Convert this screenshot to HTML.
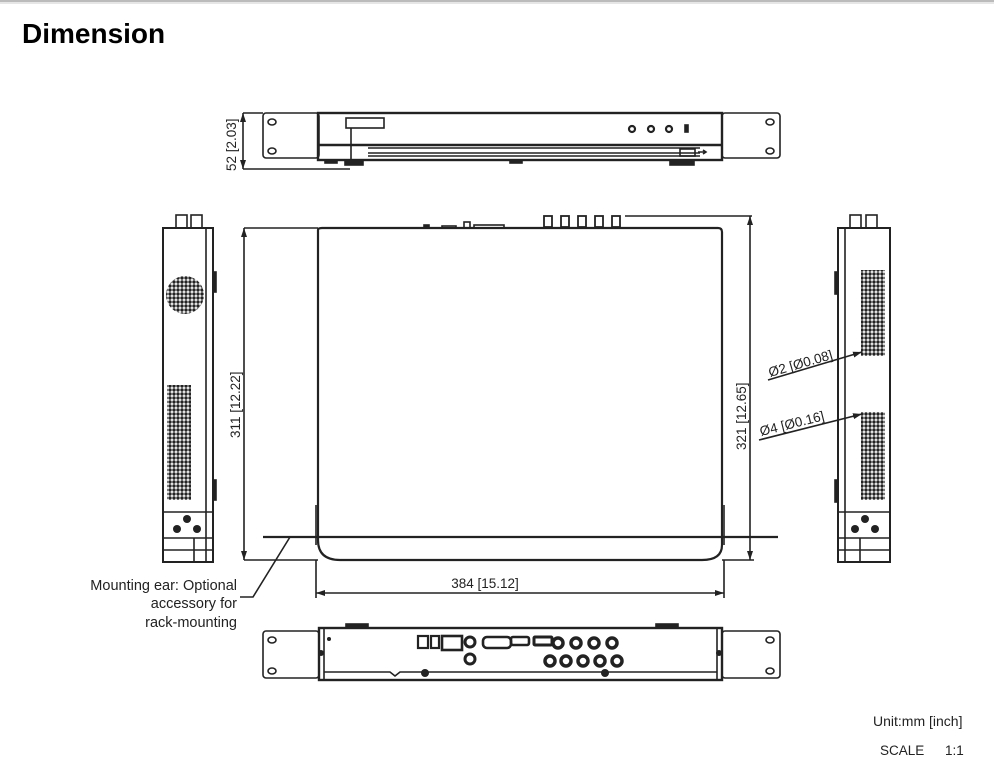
<!DOCTYPE html>
<html><head><meta charset="utf-8"><style>
html,body{margin:0;padding:0;background:#fff;}
svg{display:block;}
text{font-family:"Liberation Sans",sans-serif;fill:#222;}
</style></head><body>
<svg width="994" height="770" viewBox="0 0 994 770" xmlns="http://www.w3.org/2000/svg">
<defs>
<pattern id="dots" width="4" height="4" patternUnits="userSpaceOnUse"><circle cx="2" cy="2" r="1.7" fill="#222"/></pattern>
<marker id="ar" markerWidth="9" markerHeight="6" refX="9" refY="3" orient="auto-start-reverse" markerUnits="userSpaceOnUse"><path d="M0,0 L9,3 L0,6 z" fill="#222"/></marker>
</defs>
<rect x="0" y="0" width="994" height="2" fill="#bbb"/>
<rect x="0" y="2" width="994" height="2" fill="#e6e6e6"/>
<text x="22" y="43" font-size="28" font-weight="bold" style="fill:#000">Dimension</text>

<g fill="none" stroke="#222" stroke-width="1.6">
<!-- FRONT VIEW -->
<rect x="263" y="113" width="56" height="45" rx="3"/>
<rect x="722" y="113" width="58" height="45" rx="3"/>
<ellipse cx="272" cy="122" rx="4" ry="3"/><ellipse cx="272" cy="151" rx="4" ry="3"/>
<ellipse cx="770" cy="122" rx="4" ry="3"/><ellipse cx="770" cy="151" rx="4" ry="3"/>
<rect x="318" y="113" width="404" height="47" stroke-width="2.4"/>
<line x1="318" y1="145" x2="722" y2="145" stroke-width="2.4"/>
<rect x="346" y="118" width="38" height="10"/>
<line x1="351" y1="128" x2="351" y2="160"/>
<line x1="368" y1="148" x2="700" y2="148"/><line x1="368" y1="153" x2="700" y2="153"/>
<line x1="368" y1="156" x2="700" y2="156"/>
<circle cx="632" cy="129" r="3" stroke-width="2.2"/><circle cx="651" cy="129" r="3" stroke-width="2.2"/><circle cx="669" cy="129" r="3" stroke-width="2.2"/>
<rect x="685" y="125" width="3" height="7" fill="#222"/>
<rect x="680" y="149" width="15" height="7"/>
<path d="M698 152 h8 M703 150 l3 2 l-3 2"/>
<rect x="325" y="160" width="12" height="3" fill="#222"/><rect x="345" y="160" width="18" height="5" fill="#222"/>
<rect x="510" y="160" width="12" height="3" fill="#222"/><rect x="670" y="160" width="24" height="5" fill="#222"/>
<line x1="243" y1="113" x2="263" y2="113"/><line x1="243" y1="169" x2="350" y2="169"/>
<line x1="243" y1="113" x2="243" y2="169" marker-start="url(#ar)" marker-end="url(#ar)"/>

<!-- TOP VIEW -->
<path d="M318 230 Q318 228 322 228 L718 228 Q722 228 722 232 L722 545 Q722 560 702 560 L340 560 Q318 560 318 540 Z" stroke-width="2.2"/>
<line x1="316" y1="505" x2="316" y2="545"/><line x1="724" y1="505" x2="724" y2="545"/>
<line x1="263" y1="537" x2="778" y2="537" stroke-width="2.2"/>
<line x1="316" y1="560" x2="316" y2="598"/><line x1="724" y1="560" x2="724" y2="598"/>
<line x1="316" y1="593" x2="724" y2="593" marker-start="url(#ar)" marker-end="url(#ar)"/>
<line x1="244" y1="228" x2="318" y2="228"/><line x1="244" y1="560" x2="318" y2="560"/>
<line x1="244" y1="228" x2="244" y2="560" marker-start="url(#ar)" marker-end="url(#ar)"/>
<line x1="625" y1="216" x2="752" y2="216"/><line x1="722" y1="560" x2="754" y2="560"/>
<line x1="750" y1="216" x2="750" y2="560" marker-start="url(#ar)" marker-end="url(#ar)"/>
<rect x="424" y="225" width="5" height="3" fill="#222"/>
<rect x="442" y="226" width="14" height="2"/>
<rect x="464" y="222" width="6" height="6"/>
<rect x="474" y="225" width="30" height="3"/>
<g fill="#fff" stroke-width="1.8">
<rect x="544" y="216" width="8" height="11"/><rect x="561" y="216" width="8" height="11"/><rect x="578" y="216" width="8" height="11"/><rect x="595" y="216" width="8" height="11"/><rect x="612" y="216" width="8" height="11"/>
</g>
<polyline points="240,597 253,597 290,537"/>

<!-- LEFT SIDE VIEW -->
<rect x="163" y="228" width="50" height="334" stroke-width="2"/>
<line x1="206" y1="228" x2="206" y2="562"/>
<rect x="213" y="272" width="3" height="20" fill="#222"/><rect x="213" y="480" width="3" height="20" fill="#222"/>
<rect x="176" y="215" width="11" height="13"/><rect x="191" y="215" width="11" height="13"/>
<line x1="163" y1="512" x2="213" y2="512"/>
<line x1="163" y1="538" x2="213" y2="538"/><line x1="163" y1="550" x2="213" y2="550"/>
<line x1="194" y1="538" x2="194" y2="562"/>
<!-- RIGHT SIDE VIEW -->
<rect x="838" y="228" width="52" height="334" stroke-width="2"/>
<line x1="845" y1="228" x2="845" y2="562"/>
<rect x="835" y="272" width="3" height="22" fill="#222"/><rect x="835" y="480" width="3" height="22" fill="#222"/>
<rect x="850" y="215" width="11" height="13"/><rect x="866" y="215" width="11" height="13"/>
<line x1="838" y1="512" x2="890" y2="512"/>
<line x1="838" y1="538" x2="890" y2="538"/><line x1="838" y1="550" x2="890" y2="550"/>
<line x1="860" y1="538" x2="860" y2="562"/>
<line x1="768" y1="380" x2="862" y2="352" marker-end="url(#ar)"/>
<line x1="759" y1="440" x2="862" y2="414" marker-end="url(#ar)"/>

<!-- REAR VIEW -->
<rect x="263" y="631" width="56" height="47" rx="3"/>
<rect x="722" y="631" width="58" height="47" rx="3"/>
<ellipse cx="272" cy="640" rx="4" ry="3"/><ellipse cx="272" cy="671" rx="4" ry="3"/>
<ellipse cx="770" cy="640" rx="4" ry="3"/><ellipse cx="770" cy="671" rx="4" ry="3"/>
<rect x="319" y="628" width="403" height="52" stroke-width="2.4"/>
<line x1="324" y1="628" x2="324" y2="680"/><line x1="717" y1="628" x2="717" y2="680"/>
<path d="M324 672 L390 672 L395 676 L400 672 L717 672"/>
<rect x="346" y="624" width="22" height="4" fill="#222"/><rect x="656" y="624" width="22" height="4" fill="#222"/>
<rect x="418" y="636" width="10" height="12" stroke-width="2.2"/>
<rect x="431" y="636" width="8" height="12" stroke-width="2.2"/>
<rect x="442" y="636" width="20" height="14" stroke-width="2.6"/>
<circle cx="470" cy="642" r="5" stroke-width="3"/><circle cx="470" cy="659" r="5" stroke-width="3"/>
<rect x="483" y="637" width="28" height="11" rx="4" stroke-width="2.6"/>
<rect x="511" y="637" width="18" height="8" rx="2" stroke-width="2.6"/>
<rect x="534" y="637" width="18" height="8" rx="1" stroke-width="3"/>
</g>
<g fill="#222">
<circle cx="329" cy="639" r="2"/>
<circle cx="321" cy="653" r="3"/><circle cx="719" cy="653" r="3"/>
<circle cx="425" cy="673" r="4"/><circle cx="605" cy="673" r="4"/>
<circle cx="185" cy="295" r="19" fill="url(#dots)"/>
<rect x="167" y="385" width="24" height="115" fill="url(#dots)"/>
<rect x="861" y="270" width="24" height="86" fill="url(#dots)"/>
<rect x="861" y="412" width="24" height="88" fill="url(#dots)"/>
<circle cx="187" cy="519" r="4"/><circle cx="177" cy="529" r="4"/><circle cx="197" cy="529" r="4"/>
<circle cx="865" cy="519" r="4"/><circle cx="855" cy="529" r="4"/><circle cx="875" cy="529" r="4"/>
</g>
<g fill="none" stroke="#222" stroke-width="3.5">
<circle cx="558" cy="643" r="5"/><circle cx="576" cy="643" r="5"/><circle cx="594" cy="643" r="5"/><circle cx="612" cy="643" r="5"/>
<circle cx="550" cy="661" r="5"/><circle cx="566" cy="661" r="5"/><circle cx="583" cy="661" r="5"/><circle cx="600" cy="661" r="5"/><circle cx="617" cy="661" r="5"/>
</g>

<text font-size="13.5" transform="translate(236,171) rotate(-90)">52 [2.03]</text>
<text font-size="13.5" transform="translate(240,438) rotate(-90)">311 [12.22]</text>
<text font-size="13.5" transform="translate(746,450) rotate(-90)">321 [12.65]</text>
<text font-size="13.5" x="485" y="588" text-anchor="middle">384 [15.12]</text>
<text font-size="13.5" transform="translate(770,377) rotate(-16)">Ø2 [Ø0.08]</text>
<text font-size="13.5" transform="translate(761,436) rotate(-14)">Ø4 [Ø0.16]</text>
<text font-size="14.5" text-anchor="end" x="237" y="590">Mounting ear: Optional</text>
<text font-size="14.5" text-anchor="end" x="237" y="608">accessory for</text>
<text font-size="14.5" text-anchor="end" x="237" y="627">rack-mounting</text>
<text font-size="14" x="873" y="726">Unit:mm [inch]</text>
<text font-size="13.5" x="880" y="755">SCALE</text>
<text font-size="13.5" x="945" y="755">1:1</text>
</svg>
</body></html>
